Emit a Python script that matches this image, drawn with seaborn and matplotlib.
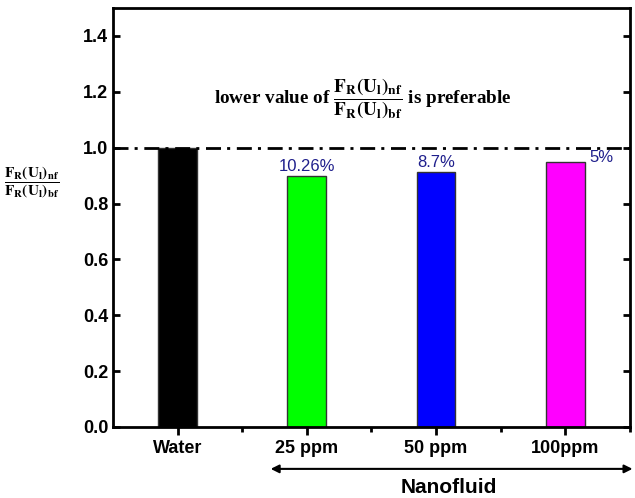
import matplotlib
matplotlib.use("Agg")
import matplotlib.pyplot as plt
import pandas as pd
import seaborn as sns
from matplotlib.ticker import FixedLocator

# data
categories = ["Water", "25 ppm", "50 ppm", "100ppm"]
ratio = [1.0, 0.8974, 0.913, 0.95]
bar_colors = ["#000000", "#00FF00", "#0000FF", "#FF00FF"]
pct_labels = ["", "10.26%", "8.7%", "5%"]
y_ticks = [0.0, 0.2, 0.4, 0.6, 0.8, 1.0, 1.2, 1.4]

sns.set_style("white")
plt.rcParams["font.family"] = ["Liberation Sans", "DejaVu Sans"]
plt.rcParams["mathtext.fontset"] = "stix"
for k in ["text.color", "axes.labelcolor", "xtick.color", "ytick.color"]:
    plt.rcParams[k] = "black"

df = pd.DataFrame({"sample": categories, "ratio": ratio})

fig = plt.figure(figsize=(6.35, 4.98), dpi=100)
ax = fig.add_axes([0.178, 0.1426, 0.814, 0.8414])

sns.barplot(data=df, x="sample", y="ratio", hue="sample", palette=bar_colors,
            saturation=1, width=0.3, edgecolor="#333333", linewidth=1,
            legend=False, ax=ax)

ax.set_xlim(-0.5, 3.5)
ax.set_ylim(0, 1.5)
ax.axhline(1.0, color="black", lw=2, ls=(0, (5.4, 2.2, 1.1, 2.4)), zorder=5)

for i, (v, lab) in enumerate(zip(ratio, pct_labels)):
    if not lab:
        continue
    if i == 3:
        ax.text(i + 0.185, v - 0.012, lab, color="#1F1F8C", fontsize=12,
                ha="left", va="bottom")
    else:
        ax.text(i, v + 0.008, lab, color="#1F1F8C", fontsize=12,
                ha="center", va="bottom")

frac = r"$\mathbf{\dfrac{F_R(U_l)_{nf}}{F_R(U_l)_{bf}}}$"
ax.text(1.434, 1.174, "lower value of " + frac + " is preferable",
        family="Liberation Serif", fontweight="bold", fontsize=13.8,
        ha="center", va="center")

ax.set_yticks(y_ticks)
ax.set_yticklabels([f"{t:.1f}" for t in y_ticks])
ax.set_xlabel("")
ax.set_ylabel(frac, rotation=0, fontsize=11, va="center")
ax.yaxis.set_label_coords(-0.157, 0.585)

for s in ax.spines.values():
    s.set_linewidth(2)
    s.set_color("black")

ax.xaxis.set_minor_locator(FixedLocator([0.5, 1.5, 2.5, 3.5]))
ax.tick_params(axis="x", which="major", direction="out", length=6, width=2,
               bottom=True, top=False)
ax.tick_params(axis="x", which="minor", direction="out", length=3.5, width=2,
               bottom=True, top=False)
ax.tick_params(axis="y", direction="in", length=5, width=2, left=True, right=True)
for lab in ax.get_xticklabels() + ax.get_yticklabels():
    lab.set_fontweight("bold")
    lab.set_fontsize(13)

# arrow for the nanofluid group
ax.annotate("", xy=(3.52, -0.15), xytext=(0.72, -0.15),
            xycoords="data", annotation_clip=False,
            arrowprops=dict(arrowstyle="<|-|>", color="black", lw=1.5,
                            mutation_scale=12, shrinkA=0, shrinkB=0))
ax.text(2.1, -0.215, "Nanofluid", fontsize=15, fontweight="bold",
        ha="center", va="center", clip_on=False)

plt.savefig("out.png", dpi=100)
